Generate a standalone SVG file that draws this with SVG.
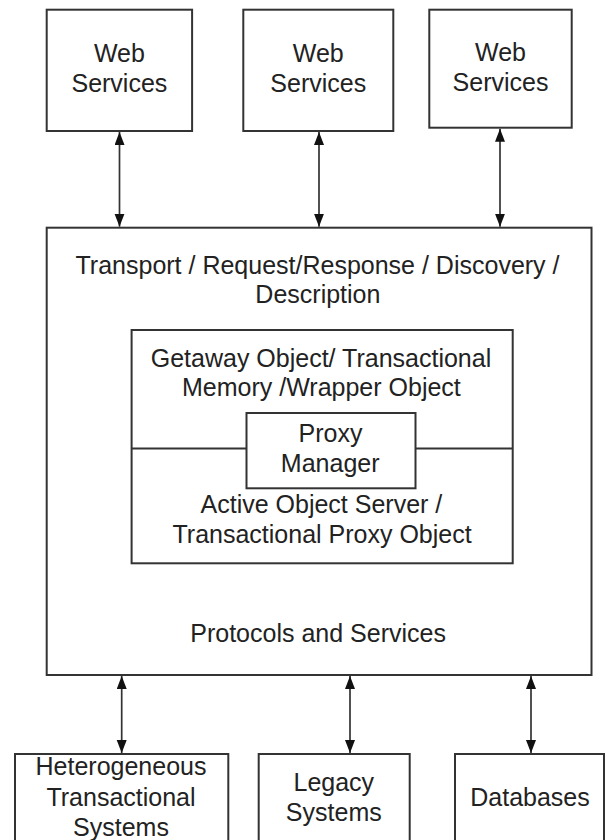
<svg xmlns="http://www.w3.org/2000/svg" width="605" height="840" viewBox="0 0 605 840">
<style>
.box{fill:#fff;stroke:#333;stroke-width:2}
.ln{fill:none;stroke:#333;stroke-width:2}
.arr{fill:none;stroke:#333;stroke-width:1.7;marker-start:url(#ah);marker-end:url(#ah)}
text{font-family:"Liberation Sans",Arial,sans-serif;font-size:25px;fill:#222;text-anchor:middle}
</style>
<defs>
<marker id="ah" markerUnits="userSpaceOnUse" markerWidth="14" markerHeight="12" refX="13" refY="5" orient="auto-start-reverse">
<path d="M0,0 L13,5 L0,10 Z" fill="#111"/>
</marker>
</defs>
<rect width="605" height="840" fill="#fff"/>
<g id="connectors">
<line class="arr" x1="119.5" y1="132" x2="119.5" y2="226.7"/>
<line class="arr" x1="319" y1="132" x2="319" y2="226.7"/>
<line class="arr" x1="500" y1="128.7" x2="500" y2="226.7"/>
<line class="arr" x1="121.7" y1="676" x2="121.7" y2="753"/>
<line class="arr" x1="350" y1="676" x2="350" y2="753"/>
<line class="arr" x1="531" y1="676" x2="531" y2="753"/>
</g>
<g id="ws1">
<rect class="box" x="46.7" y="9.7" width="145.4" height="121.3"/>
<text x="119.4" y="62.3">Web</text>
<text x="119.4" y="91.7">Services</text>
</g>
<g id="ws2">
<rect class="box" x="243.3" y="9.7" width="150" height="121.3"/>
<text x="318.3" y="62.3">Web</text>
<text x="318.3" y="91.7">Services</text>
</g>
<g id="ws3">
<rect class="box" x="429.3" y="9.7" width="142.4" height="118"/>
<text x="500.5" y="60.7">Web</text>
<text x="500.5" y="90.7">Services</text>
</g>
<g id="main">
<rect class="box" x="46.7" y="227.7" width="544.8" height="447.3"/>
<text x="317.5" y="274.3">Transport / Request/Response / Discovery /</text>
<text x="317.9" y="303.3">Description</text>
<text x="318.1" y="641.7">Protocols and Services</text>
</g>
<g id="inner">
<rect class="box" x="131.6" y="330" width="381.1" height="233.3"/>
<line class="ln" x1="131.6" y1="448.5" x2="512.7" y2="448.5"/>
<text x="321" y="366.7">Getaway Object/ Transactional</text>
<text x="321.4" y="396">Memory /Wrapper Object</text>
<text x="321.4" y="512.7">Active Object Server /</text>
<text x="322.1" y="542.7">Transactional Proxy Object</text>
</g>
<g id="proxy">
<rect class="box" x="246.5" y="413" width="169" height="75.3"/>
<text x="330.5" y="441.7">Proxy</text>
<text x="330.2" y="472.3">Manager</text>
</g>
<g id="hts">
<rect class="box" x="15" y="754" width="213.3" height="100"/>
<text x="121" y="775">Heterogeneous</text>
<text x="121" y="805.5">Transactional</text>
<text x="121" y="835.5">Systems</text>
</g>
<g id="legacy">
<rect class="box" x="258.7" y="754" width="151" height="100"/>
<text x="333.8" y="790.7">Legacy</text>
<text x="333.8" y="820.7">Systems</text>
</g>
<g id="db">
<rect class="box" x="455" y="754" width="149" height="100"/>
<text x="530" y="805.7">Databases</text>
</g>
</svg>
